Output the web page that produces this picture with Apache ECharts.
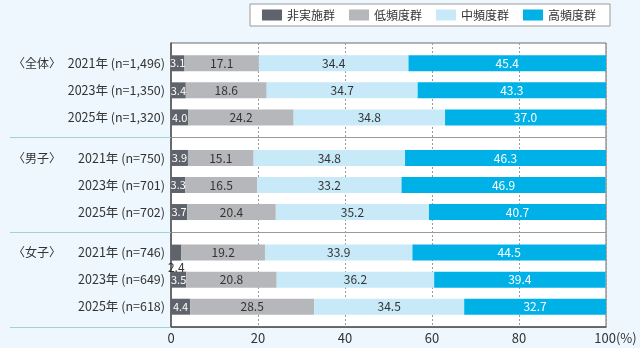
<!DOCTYPE html>
<html>
<head>
<meta charset="utf-8">
<script src="https://cdn.jsdelivr.net/npm/echarts@6/dist/echarts.min.js"></script>
<style>
html,body{margin:0;padding:0;background:#edf7fd;}
#c{width:640px;height:348px;}
</style>
</head>
<body>
<div id="c"></div>
<script>
var groups = ['〈全体〉', '〈男子〉', '〈女子〉'];
var rowLabels = [
  '2021年 (n=1,496)', '2023年 (n=1,350)', '2025年 (n=1,320)',
  '2021年 (n=750)', '2023年 (n=701)', '2025年 (n=702)',
  '2021年 (n=746)', '2023年 (n=649)', '2025年 (n=618)'
];
var seriesNames = ['非実施群', '低頻度群', '中頻度群', '高頻度群'];
var nonPractice = [3.1, 3.4, 4.0, 3.9, 3.3, 3.7, 2.4, 3.5, 4.4];
var lowFreq = [17.1, 18.6, 24.2, 15.1, 16.5, 20.4, 19.2, 20.8, 28.5];
var midFreq = [34.4, 34.7, 34.8, 34.8, 33.2, 35.2, 33.9, 36.2, 34.5];
var highFreq = [45.4, 43.3, 37.0, 46.3, 46.9, 40.7, 44.5, 39.4, 32.7];
var xTicks = [0, 20, 40, 60, 80, 100];

// layout: slot grid so that groups are separated by a wider gap
var slotCount = 21;
var rowSlots = [1, 3, 5, 8, 10, 12, 15, 17, 19];
var sepTicks = [7, 14];

var cats = [];
for (var i = 0; i < slotCount; i++) cats.push('s' + i);
var slotLabel = {};
rowSlots.forEach(function (s, i) {
  var txt = rowLabels[i];
  if (i % 3 === 0) {
    slotLabel['s' + s] = '{g|' + groups[i / 3] + '}{y|' + txt + '}';
  } else {
    slotLabel['s' + s] = '{y|' + txt + '}';
  }
});

var colors = ['#5f636b', '#b5b7ba', '#c8e9f8', '#00b1e7'];
var labelColors = ['#ffffff', '#333333', '#333333', '#ffffff'];
var values = [nonPractice, lowFreq, midFreq, highFreq];

function buildData(arr, si) {
  var out = [];
  for (var i = 0; i < slotCount; i++) out.push('-');
  rowSlots.forEach(function (s, i) {
    var item = { value: arr[i] };
    if (si === 0 && arr[i] < 3) {
      item.label = { position: 'bottom', color: '#333', distance: 1, fontSize: 12 };
    }
    out[s] = item;
  });
  return out;
}

var series = seriesNames.map(function (name, si) {
  return {
    name: name,
    type: 'bar',
    stack: 'total',
    barWidth: 16,
    itemStyle: { color: colors[si] },
    label: {
      show: true,
      position: 'inside',
      color: labelColors[si],
      fontSize: si === 0 ? 11 : 12,
      fontFamily: 'Noto Sans CJK JP',
      formatter: function (p) { return Number(p.value).toFixed(1); }
    },
    data: buildData(values[si], si)
  };
});

var chart = echarts.init(document.getElementById('c'), null, { renderer: 'canvas' });
chart.setOption({
  backgroundColor: '#edf7fd',
  animation: false,
  textStyle: { fontFamily: 'Noto Sans CJK JP' },
  color: colors,
  legend: {
    data: seriesNames,
    top: 4,
    left: 250,
    backgroundColor: '#ffffff',
    borderColor: '#9a9a9a',
    borderWidth: 1,
    padding: [5, 14, 5, 12],
    itemWidth: 20,
    itemHeight: 11,
    itemGap: 14,
    icon: 'rect',
    textStyle: { fontSize: 12, color: '#333', fontFamily: 'Noto Sans CJK JP' }
  },
  grid: {
    left: 171, right: 34, top: 43, bottom: 21,
    show: true,
    backgroundColor: '#ffffff',
    borderColor: '#6b6b6b',
    borderWidth: 1
  },
  xAxis: {
    type: 'value',
    min: 0, max: 100, interval: 20,
    axisLine: { show: true, lineStyle: { color: '#555', width: 1.5 } },
    axisTick: { show: false },
    splitLine: { show: true, lineStyle: { color: '#9a9a9a', type: [2, 2], width: 1 } },
    axisLabel: {
      color: '#333', fontSize: 13, margin: 5,
      formatter: function (v) { return v === 100 ? '{p|}100(%)' : String(v); },
      rich: { p: { width: 19 } }
    }
  },
  yAxis: {
    type: 'category',
    inverse: true,
    data: cats,
    axisLine: { show: true, lineStyle: { color: '#555', width: 1.5 } },
    axisTick: {
      show: true, length: 161,
      interval: function (idx) { return sepTicks.indexOf(idx) >= 0; },
      lineStyle: { color: '#9fd3da', width: 1 }
    },
    splitLine: {
      show: true,
      interval: function (idx) { return sepTicks.indexOf(idx) >= 0; },
      lineStyle: { color: '#9a9a9a', width: 1 }
    },
    axisLabel: {
      interval: 0,
      margin: 6,
      color: '#333',
      fontSize: 12.5,
      formatter: function (v) { return slotLabel[v] || ''; },
      rich: {
        g: { width: 47, align: 'left', fontSize: 12, color: '#333' },
        y: { width: 105, align: 'right', fontSize: 12.5, color: '#333' }
      }
    }
  },
  series: series
});
</script>
</body>
</html>
